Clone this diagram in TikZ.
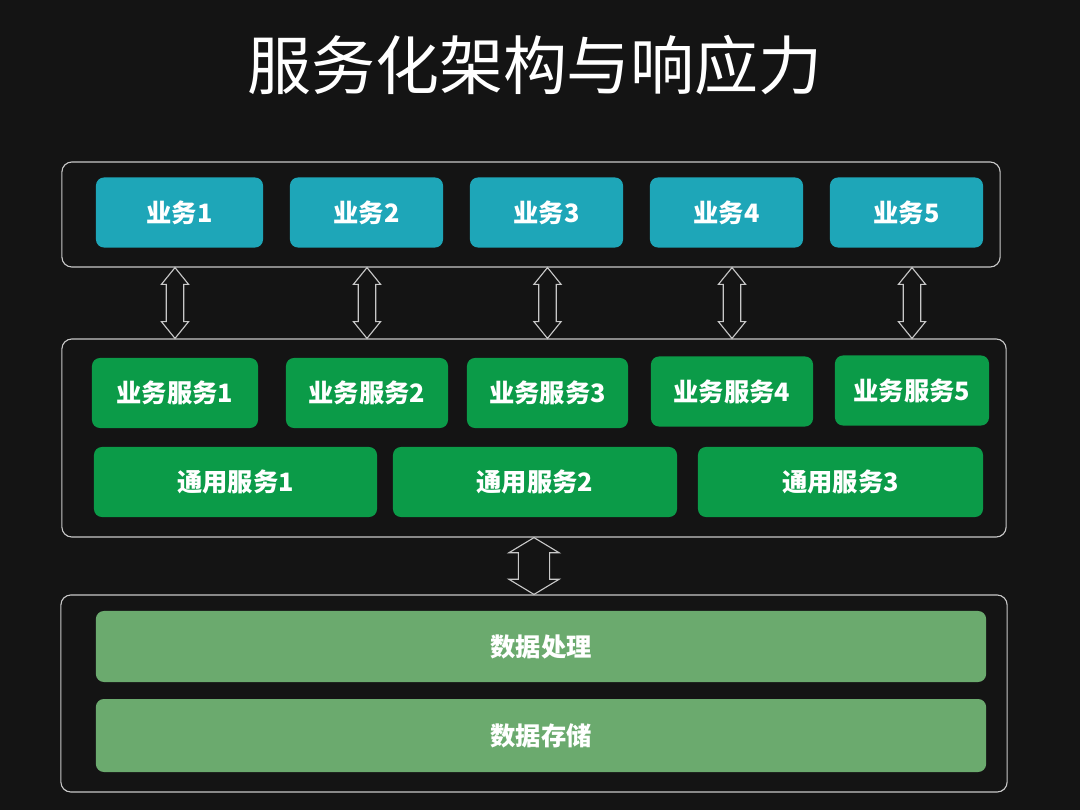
\documentclass[tikz,border=0pt]{standalone}
\usepackage{fontspec}
\usepackage{tikz}
\usetikzlibrary{calc}
\newfontfamily\cjk{Noto Sans CJK SC}

\definecolor{bgdark}{HTML}{141414}
\definecolor{framegray}{HTML}{C8C8C8}
\definecolor{bizteal}{HTML}{1EA6B8}
\definecolor{svcgreen}{HTML}{0B9B48}
\definecolor{datagreen}{HTML}{6BAA6E}

\tikzset{
    blk head/.store in=\blkhead, blk shaft/.store in=\blkshaft, blk len/.store in=\blklen,
    blk head=0.34cm, blk shaft=0.22cm, blk len=0.42cm
}

\begin{document}
\begin{tikzpicture}[
    x=0.025cm, y=-0.025cm,
    frame/.style={rectangle, draw=framegray, line width=0.8pt, rounded corners=0.25cm, inner sep=0pt},
    box/.style={rectangle, rounded corners=0.2cm, minimum height=1.75cm, inner sep=0pt, text=white, font=\cjk\bfseries\fontsize{18}{21}\selectfont},
    biz/.style={box, fill=bizteal},
    svc/.style={box, fill=svcgreen},
    data/.style={box, fill=datagreen},
    blockarrow/.style={draw=framegray, line width=0.8pt, to path={
        let \p1=(\tikztostart), \p2=(\tikztotarget) in
        -- (\x1+\blkhead,\y1-\blklen) -- (\x1+\blkshaft,\y1-\blklen)
        -- (\x1+\blkshaft,\y2+\blklen) -- (\x1+\blkhead,\y2+\blklen)
        -- (\x1,\y2) -- (\x1-\blkhead,\y2+\blklen) -- (\x1-\blkshaft,\y2+\blklen)
        -- (\x1-\blkshaft,\y1-\blklen) -- (\x1-\blkhead,\y1-\blklen) -- cycle}}
]
    % Background
    \fill[bgdark] (0,0) rectangle (1080,810);
    \useasboundingbox (0,0) rectangle (1080,810);

    % Title
    \node[text=white, font=\cjk\fontsize{45.5}{50}\selectfont] (title) at (535,65) {服务化架构与响应力};

    % Layer 1: business
    \node[frame, minimum width=23.45cm, minimum height=2.625cm] (top) at (531,214.5) {};
    \node[biz, minimum width=4.175cm] (t1) at (179.5,212.5) {业务1};
    \node[biz, minimum width=3.825cm] (t2) at (366.5,212.5) {业务2};
    \node[biz, minimum width=3.825cm] (t3) at (546.5,212.5) {业务3};
    \node[biz, minimum width=3.825cm] (t4) at (726.5,212.5) {业务4};
    \node[biz, minimum width=3.825cm] (t5) at (906.5,212.5) {业务5};

    % Layer 2: services
    \node[frame, minimum width=23.6cm, minimum height=4.95cm] (mid) at (534,438) {};
    \node[svc, minimum width=4.15cm] (s1) at (175,393) {业务服务1};
    \node[svc, minimum width=4.05cm] (s2) at (367,393) {业务服务2};
    \node[svc, minimum width=4.025cm] (s3) at (547.5,393) {业务服务3};
    \node[svc, minimum width=4.05cm] (s4) at (732,391.5) {业务服务4};
    \node[svc, minimum width=3.85cm] (s5) at (912,390.5) {业务服务5};
    \node[svc, minimum width=7.075cm] (g1) at (235.5,482) {通用服务1};
    \node[svc, minimum width=7.1cm] (g2) at (535,482) {通用服务2};
    \node[svc, minimum width=7.125cm] (g3) at (840.5,482) {通用服务3};

    % Layer 3: data
    \node[frame, minimum width=23.65cm, minimum height=4.925cm] (bottom) at (534,693.5) {};
    \node[data, minimum width=22.25cm, minimum height=1.775cm] (d1) at (541,646.5) {数据处理};
    \node[data, minimum width=22.25cm, minimum height=1.825cm] (d2) at (541,735.5) {数据存储};

    % Block arrows between layers
    \foreach \i in {1,...,5}
        \draw[blockarrow] (s\i |- top.south) to (s\i |- mid.north);
    \draw[blockarrow, blk head=0.63cm, blk shaft=0.39cm, blk len=0.38cm] (mid.south) to (bottom.north);
\end{tikzpicture}
\end{document}
